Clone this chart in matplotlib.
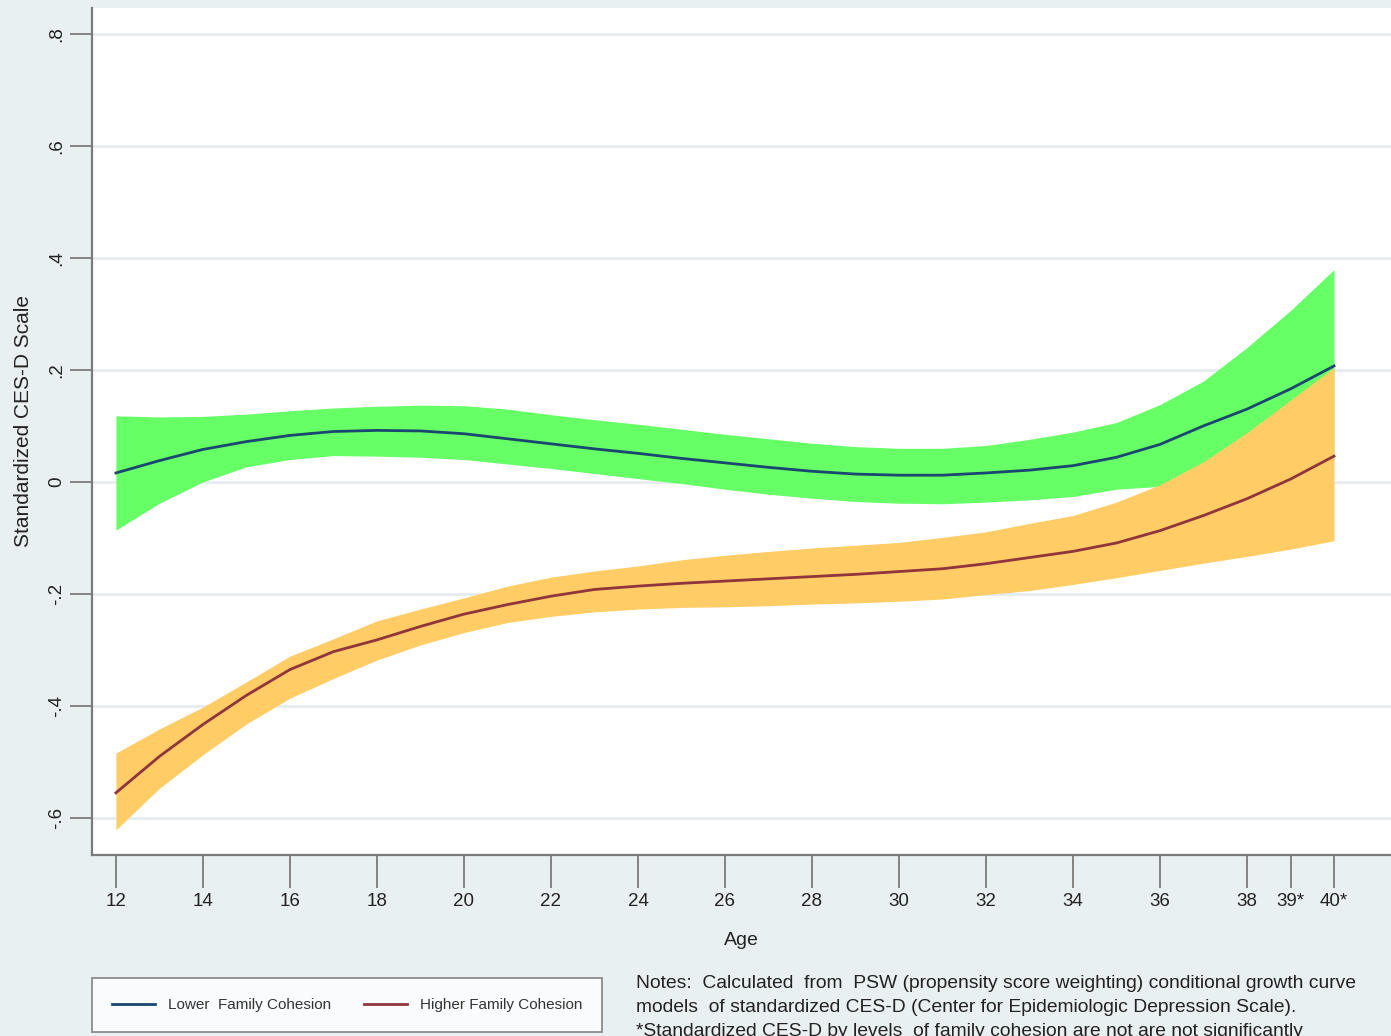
import matplotlib
matplotlib.use('Agg')
import matplotlib.pyplot as plt

# ---------------- data ----------------
age = list(range(12, 41))

lower_mean = [0.016, 0.038, 0.058, 0.072, 0.083, 0.090, 0.092, 0.091, 0.086, 0.077,
              0.068, 0.059, 0.051, 0.042, 0.034, 0.026, 0.019, 0.014, 0.012, 0.012,
              0.016, 0.021, 0.029, 0.044, 0.067, 0.100, 0.130, 0.166, 0.207]
lower_hi = [0.118, 0.116, 0.117, 0.121, 0.127, 0.132, 0.135, 0.137, 0.136, 0.130,
            0.120, 0.111, 0.103, 0.094, 0.085, 0.077, 0.069, 0.063, 0.060, 0.060,
            0.065, 0.076, 0.089, 0.106, 0.138, 0.180, 0.240, 0.306, 0.379]
lower_lo = [-0.086, -0.038, 0.000, 0.027, 0.040, 0.047, 0.046, 0.044, 0.040, 0.032,
            0.024, 0.015, 0.006, -0.003, -0.013, -0.022, -0.029, -0.035, -0.038, -0.039,
            -0.036, -0.032, -0.026, -0.013, -0.008, 0.008, 0.022, 0.032, 0.038]

higher_mean = [-0.555, -0.490, -0.433, -0.381, -0.335, -0.303, -0.282, -0.258, -0.236, -0.219,
               -0.204, -0.192, -0.186, -0.181, -0.177, -0.173, -0.169, -0.165, -0.160, -0.155,
               -0.146, -0.135, -0.124, -0.109, -0.087, -0.060, -0.030, 0.005, 0.046]
higher_hi = [-0.484, -0.441, -0.402, -0.357, -0.311, -0.280, -0.248, -0.227, -0.207, -0.186,
             -0.170, -0.159, -0.150, -0.139, -0.131, -0.124, -0.118, -0.113, -0.108, -0.099,
             -0.089, -0.074, -0.060, -0.036, -0.005, 0.036, 0.088, 0.146, 0.204]
higher_lo = [-0.621, -0.547, -0.487, -0.432, -0.386, -0.351, -0.318, -0.291, -0.269, -0.251,
             -0.240, -0.232, -0.227, -0.224, -0.223, -0.221, -0.218, -0.216, -0.213, -0.209,
             -0.201, -0.194, -0.183, -0.171, -0.158, -0.145, -0.133, -0.120, -0.105]

xticks = [12, 14, 16, 18, 20, 22, 24, 26, 28, 30, 32, 34, 36, 38, 39, 40]
xtick_labels = ['12', '14', '16', '18', '20', '22', '24', '26', '28', '30', '32',
                '34', '36', '38', '39*', '40*']
yticks = [-0.6, -0.4, -0.2, 0.0, 0.2, 0.4, 0.6, 0.8]
ytick_labels = ['-.6', '-.4', '-.2', '0', '.2', '.4', '.6', '.8']

series_labels = ['Lower  Family Cohesion', 'Higher Family Cohesion']
notes_lines = [
    'Notes:  Calculated  from  PSW (propensity score weighting) conditional growth curve',
    'models  of standardized CES-D (Center for Epidemiologic Depression Scale).',
    '*Standardized CES-D by levels  of family cohesion are not are not significantly',
]

# ---------------- style ----------------
BG = '#E9F0F2'
GRID = '#E4ECEF'
SPINE = '#7A7A7A'
GREEN = '#66FF66'
ORANGE = '#FFCC66'
NAVY = '#1A476F'
MAROON = '#90353B'
TXT = '#222222'
plt.rcParams['font.family'] = ['Liberation Sans', 'DejaVu Sans']

W, H = 1391, 1036
fig = plt.figure(figsize=(W / 100, H / 100), dpi=100, facecolor=BG)
ax = fig.add_axes([92 / W, 1 - 855 / H, 1 - 92 / W, (855 - 8) / H])
ax.set_facecolor('white')

ax.fill_between(age, lower_lo, lower_hi, color=GREEN, lw=0, zorder=2)
ax.fill_between(age, higher_lo, higher_hi, color=ORANGE, lw=0, zorder=3)
l1, = ax.plot(age, lower_mean, color=NAVY, lw=2.0, zorder=4)
l2, = ax.plot(age, higher_mean, color=MAROON, lw=2.0, zorder=4)

ax.set_xlim(11.45, 41.31)
ax.set_ylim(-0.666, 0.846)

ax.set_xticks(xticks)
ax.set_xticklabels(xtick_labels, fontsize=13.5, color=TXT)
ax.set_yticks(yticks)
ax.set_yticklabels(ytick_labels, fontsize=13.5, color=TXT, rotation=90,
                   va='center')
ax.tick_params(axis='x', length=24, width=1.3, color=SPINE, pad=3)
ax.tick_params(axis='y', length=16, width=1.3, color=SPINE, pad=3)

ax.grid(axis='y', color=GRID, lw=2, zorder=0)
ax.set_axisbelow(True)
for s in ['top', 'right']:
    ax.spines[s].set_visible(False)
for s in ['left', 'bottom']:
    ax.spines[s].set_color(SPINE)
    ax.spines[s].set_linewidth(1.6)

ax.set_xlabel('Age', fontsize=14, color=TXT, labelpad=16)
ax.set_ylabel('Standardized CES-D Scale', fontsize=15, color=TXT)
ax.yaxis.set_label_coords((33 - 92) / (W - 92), 0.512)

# legend
leg = fig.legend([l1, l2], series_labels, loc='upper left',
                 bbox_to_anchor=(92 / W, 1 - 978 / H),
                 ncol=2, frameon=True, fancybox=False,
                 edgecolor=SPINE, facecolor='white', fontsize=11,
                 handlelength=2.8, handletextpad=0.85, borderpad=1.3,
                 columnspacing=2.2, borderaxespad=0)
leg.get_frame().set_linewidth(1.4)
for t in leg.get_texts():
    t.set_color('#333333')

# notes
for i, line in enumerate(notes_lines):
    fig.text(636 / W, 1 - (983 + 24.5 * i) / H, line, fontsize=13.9,
             color=TXT, va='center', ha='left')

fig.savefig('out.png', dpi=100, facecolor=BG)
